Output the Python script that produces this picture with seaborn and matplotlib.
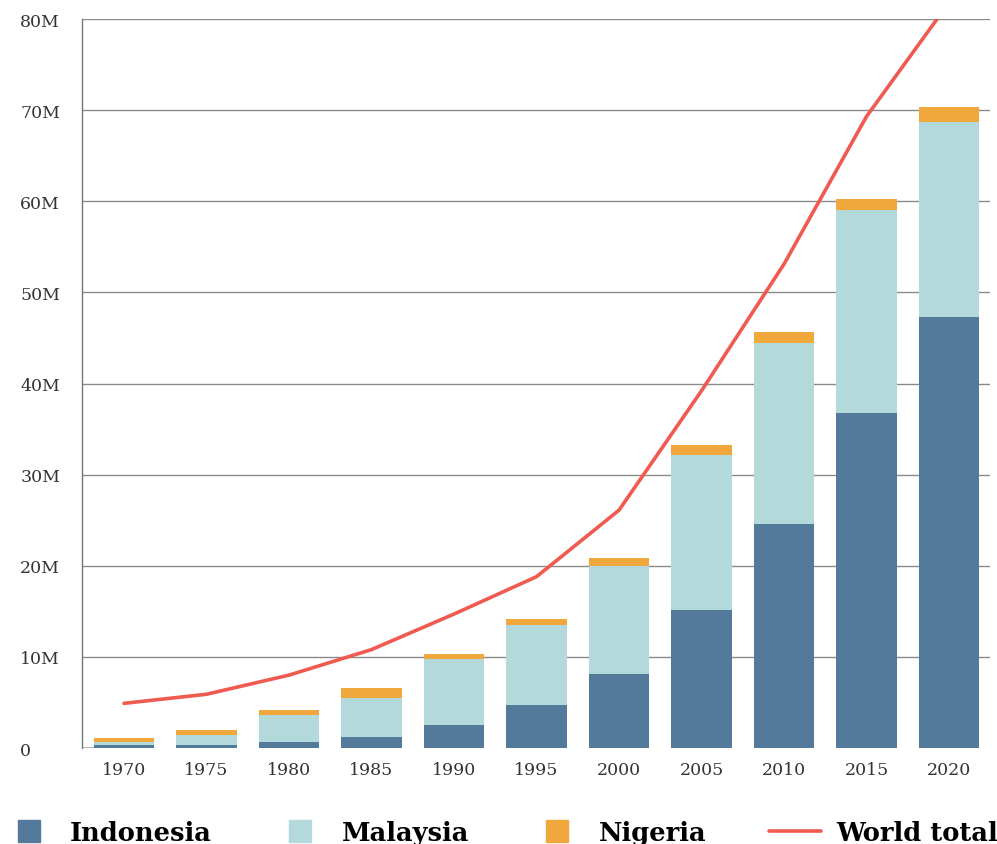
import numpy as np
import pandas as pd
import seaborn as sns
import matplotlib.pyplot as plt
from matplotlib.lines import Line2D

years = ["1970", "1975", "1980", "1985", "1990", "1995", "2000", "2005", "2010", "2015", "2020"]
indonesia = [0.3, 0.35, 0.7, 1.2, 2.5, 4.7, 8.1, 15.1, 24.6, 36.8, 47.3]
malaysia = [0.4, 1.1, 2.95, 4.3, 7.3, 8.8, 11.9, 17.1, 19.9, 22.2, 21.4]
nigeria = [0.4, 0.55, 0.55, 1.1, 0.5, 0.7, 0.9, 1.0, 1.1, 1.2, 1.6]
world_total = [4.9, 5.9, 8.0, 10.8, 14.7, 18.8, 26.1, 39.2, 53.1, 69.3, 81.8]

c_indo = "#537a9a"
c_malay = "#b3d9da"
c_nig = "#f0a73c"
c_world = "#ef5b50"

df = pd.DataFrame({"year": years, "Indonesia": indonesia,
                   "Malaysia": malaysia, "Nigeria": nigeria})
df["top_malay"] = df["Indonesia"] + df["Malaysia"]
df["top_nig"] = df["top_malay"] + df["Nigeria"]

sns.set_style("white")
plt.rcParams["font.family"] = ["DejaVu Serif"]

fig = plt.figure(figsize=(9.97, 8.45), dpi=100)
ax = fig.add_axes([0.0822, 0.1136, 0.911, 0.8627])

# stacked bars: draw the totals first, then overlay lower segments
bar_kw = dict(width=0.73, saturation=1, linewidth=0, ax=ax)
sns.barplot(data=df, x="year", y="top_nig", color=c_nig, zorder=2, **bar_kw)
sns.barplot(data=df, x="year", y="top_malay", color=c_malay, zorder=3, **bar_kw)
sns.barplot(data=df, x="year", y="Indonesia", color=c_indo, zorder=4, **bar_kw)

sns.lineplot(x=np.arange(len(years)), y=world_total, color=c_world, linewidth=2.6,
             ax=ax, zorder=5)

ax.set_xlim(-0.51, 10.5)
ax.set_ylim(0, 80)
ax.set_yticks(range(0, 81, 10))
ax.set_yticklabels(["0"] + [f"{v}M" for v in range(10, 81, 10)])
ax.set_xlabel("")
ax.set_ylabel("")

for y in range(10, 81, 10):
    ax.axhline(y, color="#8a8a8a", linewidth=1, zorder=1)
ax.axhline(0, xmax=0.025, color="#aaaaaa", linewidth=1.2, zorder=1)

for s in ["top", "right", "bottom"]:
    ax.spines[s].set_visible(False)
ax.spines["left"].set_color("#777777")
ax.spines["left"].set_linewidth(1)

ax.tick_params(axis="both", length=0, labelsize=12.5, labelcolor="#333333")
ax.tick_params(axis="x", pad=9)
for lab in ax.get_yticklabels():
    lab.set_horizontalalignment("left")
ax.tick_params(axis="y", pad=44.5)

handles = [
    Line2D([], [], marker="s", linestyle="none", markersize=16, color=c_indo),
    Line2D([], [], marker="s", linestyle="none", markersize=16, color=c_malay),
    Line2D([], [], marker="s", linestyle="none", markersize=16, color=c_nig),
    Line2D([], [], color=c_world, linewidth=2.6),
]
leg = fig.legend(handles, ["Indonesia", "Malaysia", "Nigeria", "World total"],
                 loc="center left", bbox_to_anchor=(0.003, 0.014), ncol=4, frameon=False,
                 prop={"weight": "bold", "size": 18.5}, handlelength=2.0,
                 handletextpad=0.6, columnspacing=2.45, borderaxespad=0, borderpad=0)
for t in leg.get_texts():
    t.set_color("black")

fig.savefig("out.png", dpi=100)
